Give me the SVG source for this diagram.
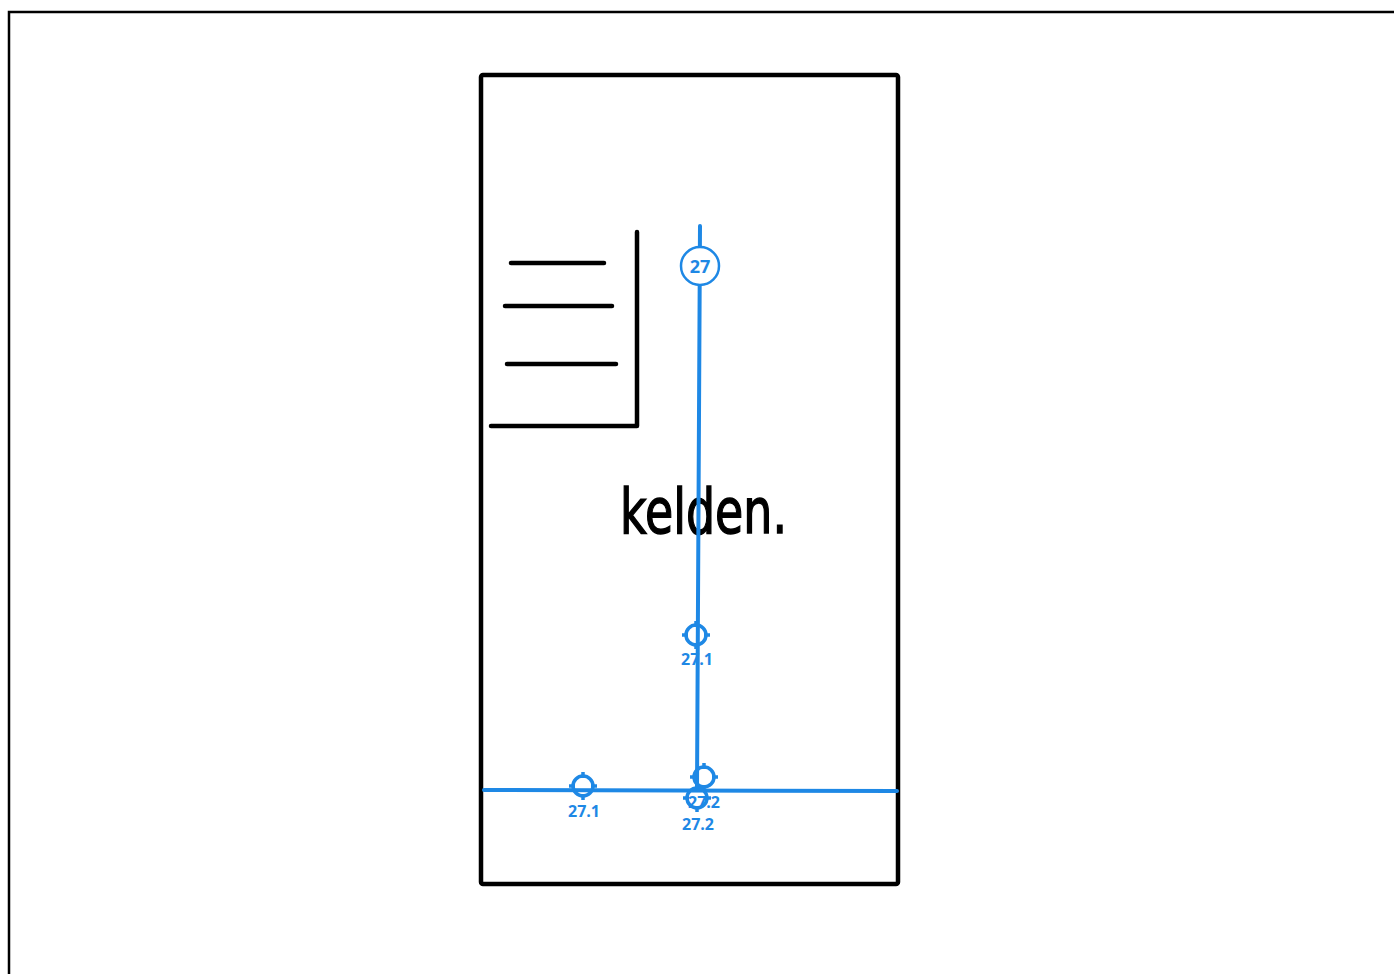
<svg xmlns="http://www.w3.org/2000/svg" width="1394" height="974" viewBox="0 0 1394 974">
<defs>
<style>
.ink{fill:none;stroke:#000;stroke-width:4.5;stroke-linecap:round;stroke-linejoin:round}
.blue{fill:none;stroke:#1e88e5;stroke-width:4;stroke-linecap:round}
.xh{fill:none;stroke:#1e88e5;stroke-width:3.5}
.lbl{font-family:"Open Sans","Liberation Sans",sans-serif;font-weight:bold;font-size:16px;fill:#1e88e5;text-anchor:middle}
</style>
<g id="crosshair">
<circle cx="0" cy="0" r="10" class="xh"/>
<line x1="-14" y1="0" x2="-8" y2="0" class="xh"/>
<line x1="8" y1="0" x2="14" y2="0" class="xh"/>
<line x1="0" y1="-14" x2="0" y2="-8" class="xh"/>
<line x1="0" y1="8" x2="0" y2="14" class="xh"/>
</g>
</defs>
<rect x="0" y="0" width="1394" height="974" fill="#fff"/>
<g id="frame"><polyline points="9,974 9,12 1394,12" fill="none" stroke="#000" stroke-width="2.5"/></g>
<g id="sketch">
<rect x="481" y="75" width="417" height="809" rx="2" class="ink"/>
<line x1="511" y1="263" x2="604" y2="263" class="ink"/>
<line x1="505" y1="306" x2="612" y2="306" class="ink"/>
<line x1="507" y1="364" x2="616" y2="364" class="ink"/>
<polyline points="637,232 637,426 491,426" class="ink"/>
<text x="620" y="533" font-family="'DejaVu Sans', sans-serif" font-size="62" textLength="167" lengthAdjust="spacingAndGlyphs" fill="#000" stroke="#000" stroke-width="1.5">kelden.</text>
</g>
<g id="connectors">
<line x1="700" y1="226" x2="697" y2="790" class="blue"/>
<line x1="484" y1="790" x2="897" y2="791" class="blue"/>
</g>
<g id="node-27">
<circle cx="700" cy="266" r="19" fill="#fff" stroke="#1e88e5" stroke-width="2.5"/>
<text x="700" y="272.5" class="lbl" style="font-size:18px">27</text>
</g>
<g id="node-27-1a">
<use href="#crosshair" x="696" y="635"/>
<text x="697" y="665" class="lbl">27.1</text>
</g>
<g id="node-27-1b">
<use href="#crosshair" x="583" y="786"/>
<text x="584" y="817" class="lbl">27.1</text>
</g>
<g id="node-27-2a">
<use href="#crosshair" x="704" y="777"/>
<text x="704" y="808" class="lbl">27.2</text>
</g>
<g id="node-27-2b">
<use href="#crosshair" x="697" y="798"/>
<text x="698" y="830" class="lbl">27.2</text>
</g>
</svg>
